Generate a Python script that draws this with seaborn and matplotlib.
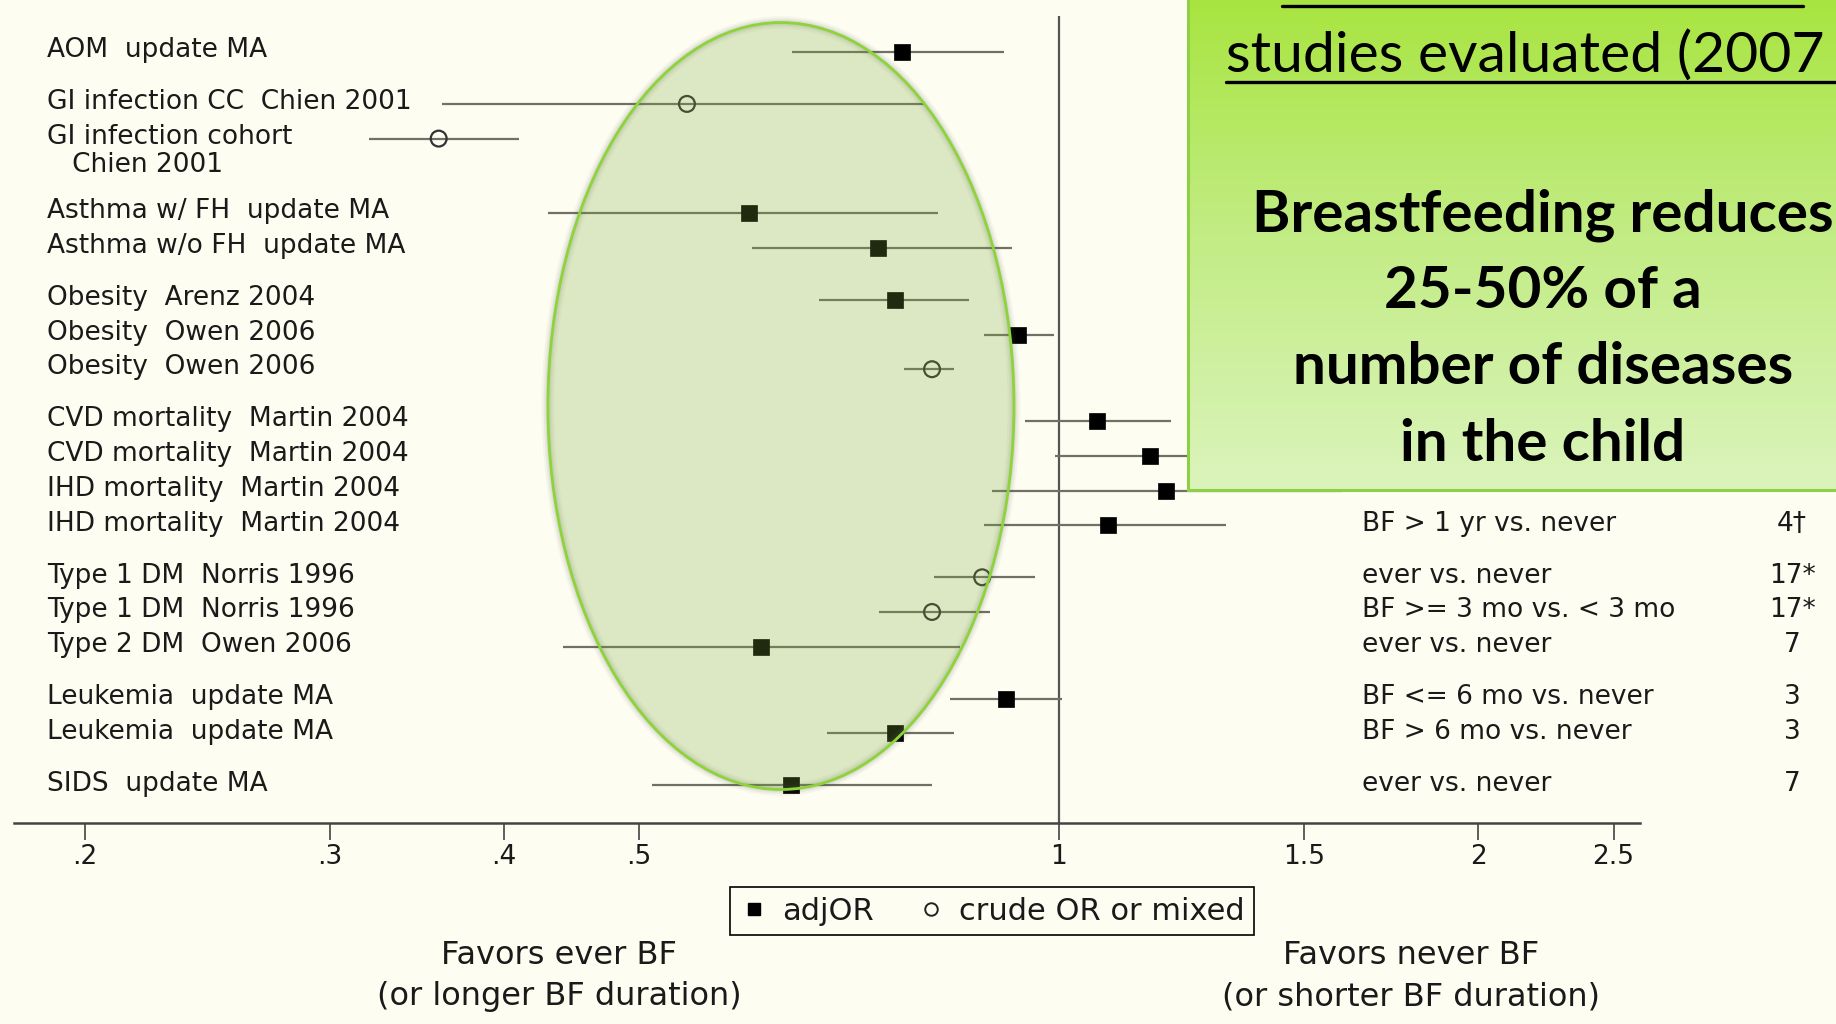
import numpy as np
import pandas as pd
import seaborn as sns
import matplotlib.pyplot as plt
from matplotlib.patches import Ellipse
from matplotlib.lines import Line2D
from matplotlib.colors import LinearSegmentedColormap
import matplotlib.transforms as mtransforms

# row labels, grouped by outcome
labels = [
    "AOM  update MA",
    "GI infection CC  Chien 2001",
    "GI infection cohort\n   Chien 2001",
    "Asthma w/ FH  update MA",
    "Asthma w/o FH  update MA",
    "Obesity  Arenz 2004",
    "Obesity  Owen 2006",
    "Obesity  Owen 2006",
    "CVD mortality  Martin 2004",
    "CVD mortality  Martin 2004",
    "IHD mortality  Martin 2004",
    "IHD mortality  Martin 2004",
    "Type 1 DM  Norris 1996",
    "Type 1 DM  Norris 1996",
    "Type 2 DM  Owen 2006",
    "Leukemia  update MA",
    "Leukemia  update MA",
    "SIDS  update MA",
]
groups = ["AOM", "GI", "GI", "Asthma", "Asthma", "Obesity", "Obesity", "Obesity",
          "Mortality", "Mortality", "Mortality", "Mortality",
          "DM", "DM", "DM", "Leukemia", "Leukemia", "SIDS"]
estimate = [0.772, 0.541, 0.359, 0.599, 0.742, 0.763, 0.934, 0.811, 1.065, 1.163,
            1.194, 1.085, 0.881, 0.811, 0.611, 0.917, 0.763, 0.642]
ci_low = [0.643, 0.361, 0.320, 0.430, 0.602, 0.673, 0.884, 0.774, 0.945, 0.994,
          0.895, 0.884, 0.813, 0.743, 0.441, 0.835, 0.682, 0.511]
ci_high = [0.913, 0.801, 0.410, 0.819, 0.925, 0.862, 0.992, 0.841, 1.204, 1.37,
           1.60, 1.319, 0.961, 0.893, 0.849, 1.005, 0.841, 0.811]
or_type = ["adjOR", "crude", "crude", "adjOR", "adjOR", "adjOR", "adjOR", "crude",
           "adjOR", "adjOR", "adjOR", "adjOR", "crude", "crude", "adjOR", "adjOR",
           "adjOR", "adjOR"]
comparison = [""] * 11 + [
    "BF > 1 yr vs. never",
    "ever vs. never",
    "BF >= 3 mo vs. < 3 mo",
    "ever vs. never",
    "BF <= 6 mo vs. never",
    "BF > 6 mo vs. never",
    "ever vs. never",
]
refs = [""] * 11 + ["4\u2020", "17*", "17*", "7", "3", "3", "7"]
tick_values = [0.2, 0.3, 0.4, 0.5, 1, 1.5, 2, 2.5]
tick_labels = [".2", ".3", ".4", ".5", "1", "1.5", "2", "2.5"]

box_lines = ["Breastfeeding reduces", "25-50% of a", "number of diseases", "in the child"]

# row positions: extra gap between outcome groups and after two-line labels
row_y = []
y = 0.0
for i, g in enumerate(groups):
    if i > 0:
        y += 1
        if g != groups[i - 1]:
            y += 0.5
        y += 0.65 * labels[i - 1].count("\n")
    row_y.append(y)

df = pd.DataFrame({"label": labels, "y": row_y, "est": estimate,
                   "lo": ci_low, "hi": ci_high, "kind": or_type})

bg = "#FDFDF1"
txt = "#1a1a1a"
sns.set_theme(style="white")
plt.rcParams["font.family"] = ["DejaVu Sans"]
plt.rcParams["figure.facecolor"] = bg
plt.rcParams["axes.facecolor"] = bg

W, H = 1836, 1024
fig = plt.figure(figsize=(W / 100, H / 100), dpi=100)
ax = fig.add_axes([14 / W, 1 - 823 / H, 1625.6 / W, 807 / H])
ax.set_xscale("log")

ax.hlines(df["y"], df["lo"], df["hi"], color="#707066", lw=1.6, zorder=2)
sns.scatterplot(data=df[df["kind"] == "adjOR"], x="est", y="y", marker="s", s=140,
                color="black", edgecolor="black", linewidth=0.5, ax=ax, zorder=3,
                legend=False)
sns.scatterplot(data=df[df["kind"] == "crude"], x="est", y="y", marker="o", s=130,
                color="#333333", facecolor="none", edgecolor="#333333", linewidth=1.6,
                ax=ax, zorder=3, legend=False)

ax.axvline(1, color="#555555", lw=1.6, zorder=1)

ax.set_xlim(0.178, 2.61)
ax.set_ylim(row_y[-1] + 1.085, -1.035)
ax.set_xticks(tick_values)
ax.set_xticklabels(tick_labels, fontsize=19, color=txt)
ax.xaxis.set_minor_locator(plt.NullLocator())
ax.set_yticks([])
ax.set_xlabel("")
ax.set_ylabel("")
for side in ["top", "left", "right"]:
    ax.spines[side].set_visible(False)
ax.spines["bottom"].set_color("#444444")
ax.spines["bottom"].set_linewidth(1.8)
ax.tick_params(axis="x", direction="out", length=12, width=1.2, color="#444444",
               pad=3, bottom=True)

# labels on the left, comparison and reference columns on the right
lab_tr = mtransforms.blended_transform_factory(ax.transAxes, ax.transData)
for yy, lab, comp, ref in zip(row_y, labels, comparison, refs):
    parts = lab.split("\n")
    for k, part in enumerate(parts):
        ax.text(33 / 1625.6, yy + 0.8 * k - 0.05, part, transform=lab_tr, fontsize=19,
                va="center", ha="left", color=txt)
    if comp:
        ax.text((1362 - 14) / 1625.6, yy - 0.05, comp, transform=lab_tr, fontsize=19,
                va="center", ha="left", color=txt)
    if ref:
        ax.text((1792 - 14) / 1625.6, yy - 0.05, ref, transform=lab_tr, fontsize=19,
                va="center", ha="center", color=txt, clip_on=False)

# highlighted ellipse with a soft shadow
ell_c, ell_w, ell_h = (0.4718, 0.5167), 0.2867, 0.9504
for lw, a in [(9, 0.05), (6, 0.07), (3.5, 0.08)]:
    ax.add_patch(Ellipse(ell_c, ell_w, ell_h, transform=ax.transAxes, facecolor="none",
                         edgecolor="#555555", lw=lw, alpha=a, zorder=4))
ax.add_patch(Ellipse(ell_c, ell_w, ell_h, transform=ax.transAxes,
                     facecolor="#7DA93A", alpha=0.25, edgecolor="none", zorder=4))
ax.add_patch(Ellipse(ell_c, ell_w, ell_h, transform=ax.transAxes,
                     facecolor="none", edgecolor="#8CD43A", lw=2, zorder=5))

# legend
handles = [
    Line2D([], [], marker="s", color="black", ls="none", markersize=9),
    Line2D([], [], marker="o", markerfacecolor="none", markeredgecolor="#222222",
           ls="none", markersize=9, markeredgewidth=1.4),
]
leg = fig.legend(handles, ["adjOR", "crude OR or mixed"], loc="center",
                 bbox_to_anchor=(847 * 1.1709 / W, 1 - 911 / H), ncol=2, fontsize=22,
                 frameon=True, fancybox=False, edgecolor="black", facecolor=bg,
                 handletextpad=0.4, columnspacing=1.4, borderpad=0.3,
                 handlelength=1.0)
leg.get_frame().set_linewidth(1.2)
leg.get_frame().set_alpha(1)
for t in leg.get_texts():
    t.set_color(txt)

fig.text(559 / W, 1 - 976 / H, "Favors ever BF\n(or longer BF duration)", ha="center",
         va="center", fontsize=23, linespacing=1.45, color=txt)
fig.text(1411 / W, 1 - 976 / H, "Favors never BF\n(or shorter BF duration)", ha="center",
         va="center", fontsize=23, linespacing=1.45, color=txt)

# green call-out box in the top right corner
bx0, by1 = 1188 / W, 1 - 490 / H
ax_box = fig.add_axes([bx0, by1, 1.02 - bx0, 1.02 - by1])
grad = np.linspace(0, 1, 256).reshape(-1, 1)
cmap = LinearSegmentedColormap.from_list("box", ["#A6E43A", "#C2EC84", "#DBF4BC"])
ax_box.imshow(grad, aspect="auto", cmap=cmap, extent=[0, 1, 0, 1], origin="upper")
ax_box.set_xticks([])
ax_box.set_yticks([])
for side in ["top", "right"]:
    ax_box.spines[side].set_visible(False)
for side in ["left", "bottom"]:
    ax_box.spines[side].set_color("#8DCF45")
    ax_box.spines[side].set_linewidth(2.2)

box_font = ["Lato", "DejaVu Sans"]
fig.text(1226 / W, 1 - 72 / H, "studies evaluated (2007", fontsize=41, family=box_font,
         ha="left", va="baseline", color="black")
fig.add_artist(Line2D([1226 / W, 1.0], [1 - 82 / H, 1 - 82 / H], color="black", lw=2.4))
fig.add_artist(Line2D([1282 / W, 1803 / W], [1 - 6 / H, 1 - 6 / H], color="black", lw=2.4))
for k, line in enumerate(box_lines):
    fig.text(1543 / W, 1 - (215 + 76.5 * k) / H, line, fontsize=42, family=box_font,
             weight="bold", ha="center", va="center", color="black")

fig.savefig("out.png", dpi=100, facecolor=bg)
